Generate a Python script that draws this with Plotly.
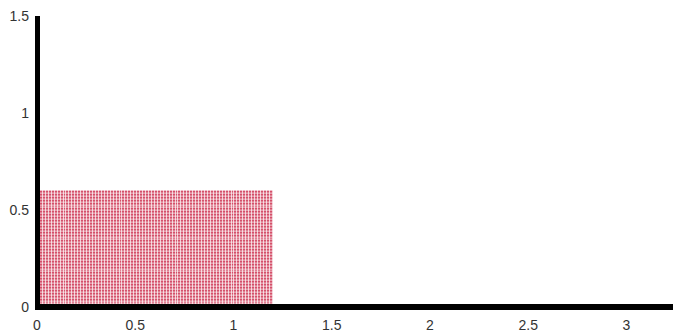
import numpy as np
import plotly.graph_objects as go

# Mesh domain (rectangular block) and mesh resolution
domain_width = 1.2
domain_height = 0.6
n_cells_x = 80
n_cells_y = 40

x_tick_vals = [0, 0.5, 1, 1.5, 2, 2.5, 3]
x_tick_text = ["0", "0.5", "1", "1.5", "2", "2.5", "3"]
y_tick_vals = [0, 0.5, 1, 1.5]
y_tick_text = ["0", "0.5", "1", "1.5"]

x_edges = np.linspace(0, domain_width, n_cells_x + 1)
y_edges = np.linspace(0, domain_height, n_cells_y + 1)
x_centers = (x_edges[:-1] + x_edges[1:]) / 2
y_centers = (y_edges[:-1] + y_edges[1:]) / 2
z = np.ones((n_cells_y, n_cells_x))

fig = go.Figure()
fig.add_trace(go.Heatmap(
    x=x_centers, y=y_centers, z=z,
    colorscale=[[0, "#d4506a"], [1, "#d4506a"]],
    showscale=False, xgap=0.7, ygap=0.7, hoverinfo="skip",
))

x_range = [-0.0102, 3.2367]
y_range = [-0.0155, 1.5103]

fig.add_shape(type="line", x0=0, x1=0, y0=y_range[0], y1=1.5,
              xref="x", yref="y", line=dict(color="black", width=6))
fig.add_shape(type="line", x0=x_range[0], x1=x_range[1], y0=0, y1=0,
              xref="x", yref="y", line=dict(color="black", width=6))

fig.update_layout(
    width=673, height=335,
    margin=dict(l=35, r=0, t=14, b=25),
    paper_bgcolor="white", plot_bgcolor="white",
    font=dict(family="Liberation Sans, Arial, sans-serif", size=14, color="#333"),
    showlegend=False,
)
fig.update_xaxes(range=x_range, tickvals=x_tick_vals, ticktext=x_tick_text,
                 showgrid=False, zeroline=False, showline=False, ticks="",
                 ticklabelstandoff=5)
fig.update_yaxes(range=y_range, tickvals=y_tick_vals, ticktext=y_tick_text,
                 showgrid=False, zeroline=False, showline=False, ticks="",
                 ticklabelstandoff=5)

fig.write_html("out.html")
